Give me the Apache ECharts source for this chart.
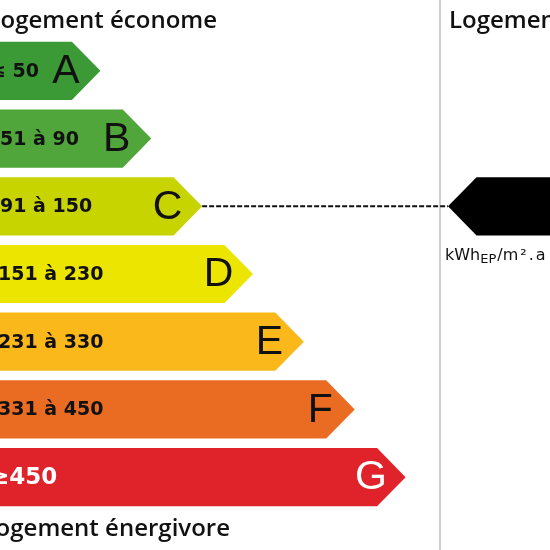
<!DOCTYPE html>
<html><head><meta charset="utf-8">
<script src="https://cdn.jsdelivr.net/npm/echarts@6/dist/echarts.min.js"></script>
<style>html,body{margin:0;padding:0;background:#fff}#c{width:550px;height:550px}</style>
</head><body><div id="c"></div>
<script>
// ---- data ----
const classes = ['A', 'B', 'C', 'D', 'E', 'F', 'G'];
const ranges = ['≤ 50', '51 à 90', '91 à 150', '151 à 230', '231 à 330', '331 à 450', '≥450'];
const barLength = [1, 2, 3, 4, 5, 6, 7];
const currentClass = 'C';
const headerTop = 'Logement économe';
const headerBottom = 'Logement énergivore';
const headerRight = 'Logement';
const unitMain = 'kWh', unitSub = 'EP', unitTail = '/m².a';

// ---- styles ----
const palette = ['#3b9a35', '#51a63b', '#c8d400', '#ece500', '#fbb81b', '#ea6c23', '#e0222a'];
const letterColor = ['#111', '#111', '#111', '#111', '#111', '#111', '#fff'];
const rangeColor = ['#111', '#111', '#111', '#111', '#111', '#111', '#fff'];
const rangeShift = [-10, 0, 0, -2, -2, -2, -10];
const rangeSize = [19, 19, 19, 19, 19, 19, 23];
const sepX = 440;
const headFont = '600 24px "Open Sans"';

const chart = echarts.init(document.getElementById('c'));

function renderBar(params, api) {
  const i = params.dataIndex;
  const p = api.coord([api.value(0), api.value(1)]);
  const band = api.size([0, 1])[1];
  const half = band * 0.43;
  const xb = p[0], yc = p[1];
  const tip = half * 0.98;
  const pts = [[-20, yc - half], [xb, yc - half], [xb + tip, yc], [xb, yc + half], [-20, yc + half]];
  return {
    type: 'group',
    children: [
      { type: 'polygon', shape: { points: pts }, style: { fill: palette[i] } },
      { type: 'text', x: rangeShift[i], y: yc + 1,
        style: { text: ranges[i], fill: rangeColor[i], font: 'bold ' + rangeSize[i] + 'px "DejaVu Sans"',
                 align: 'left', verticalAlign: 'middle' } },
      { type: 'text', x: xb - 6, y: yc + 1,
        style: { text: classes[i], fill: letterColor[i], font: '41px "Liberation Sans"',
                 align: 'center', verticalAlign: 'middle' } }
    ]
  };
}

function renderMarker(params, api) {
  const idx = api.value(0);
  const tipBar = api.coord([barLength[idx], idx]);
  const band = api.size([0, 1])[1];
  const half = band * 0.43;
  const yc = tipBar[1];
  const barTip = tipBar[0] + half * 0.98;
  const mTip = sepX + 8;
  const pts = [[mTip, yc], [mTip + half * 0.98, yc - half], [570, yc - half], [570, yc + half], [mTip + half * 0.98, yc + half]];
  return {
    type: 'group',
    children: [
      { type: 'line', shape: { x1: barTip, y1: yc, x2: mTip, y2: yc },
        style: { stroke: '#111', lineWidth: 2, lineDash: [5, 2] } },
      { type: 'polygon', shape: { points: pts }, style: { fill: '#000' } }
    ]
  };
}

const tailRich = unitTail.replace('²', '}{s|²}{a|').replace('.', '}{d|.}{a|');

chart.setOption({
  animation: false,
  backgroundColor: '#fff',
  grid: { left: 21, right: 0, top: 37, bottom: 39 },
  xAxis: { type: 'value', min: 0, max: 10.4, show: false },
  yAxis: { type: 'category', data: classes, inverse: true, show: false },
  series: [
    { type: 'custom', renderItem: renderBar, encode: { x: 0, y: 1 },
      data: barLength.map((v, i) => [v, i]) },
    { type: 'custom', renderItem: renderMarker, encode: { y: 0 },
      data: [[classes.indexOf(currentClass)]] }
  ],
  graphic: [
    { type: 'line', shape: { x1: sepX, y1: 0, x2: sepX, y2: 550 }, style: { stroke: '#cfcfcf', lineWidth: 2 } },
    { type: 'text', x: 217, y: 21, style: { text: headerTop, font: headFont, fill: '#111', align: 'right', verticalAlign: 'middle' } },
    { type: 'text', x: 230, y: 529, style: { text: headerBottom, font: headFont, fill: '#111', align: 'right', verticalAlign: 'middle' } },
    { type: 'text', x: 449, y: 21, style: { text: headerRight, font: headFont, fill: '#111', align: 'left', verticalAlign: 'middle' } },
    { type: 'text', x: 445, y: 256, style: {
        text: '{a|' + unitMain + '}{b|' + unitSub + '}{a|' + tailRich + '}',
        align: 'left', verticalAlign: 'middle',
        rich: {
          a: { fontFamily: 'DejaVu Sans', fontSize: 16, fill: '#111', lineHeight: 20, verticalAlign: 'middle' },
          s: { fontFamily: 'DejaVu Sans', fontSize: 16, fill: '#111', lineHeight: 20, verticalAlign: 'middle', padding: [0, 2, 0, 2] },
          d: { fontFamily: 'DejaVu Sans', fontSize: 16, fill: '#111', lineHeight: 20, verticalAlign: 'middle', padding: [0, 2, 0, 0] },
          b: { fontFamily: 'DejaVu Sans', fontSize: 13, fill: '#111', lineHeight: 14, verticalAlign: 'bottom', padding: [0, 1, 0, 0] }
        } } }
  ]
});
</script>
</body></html>
